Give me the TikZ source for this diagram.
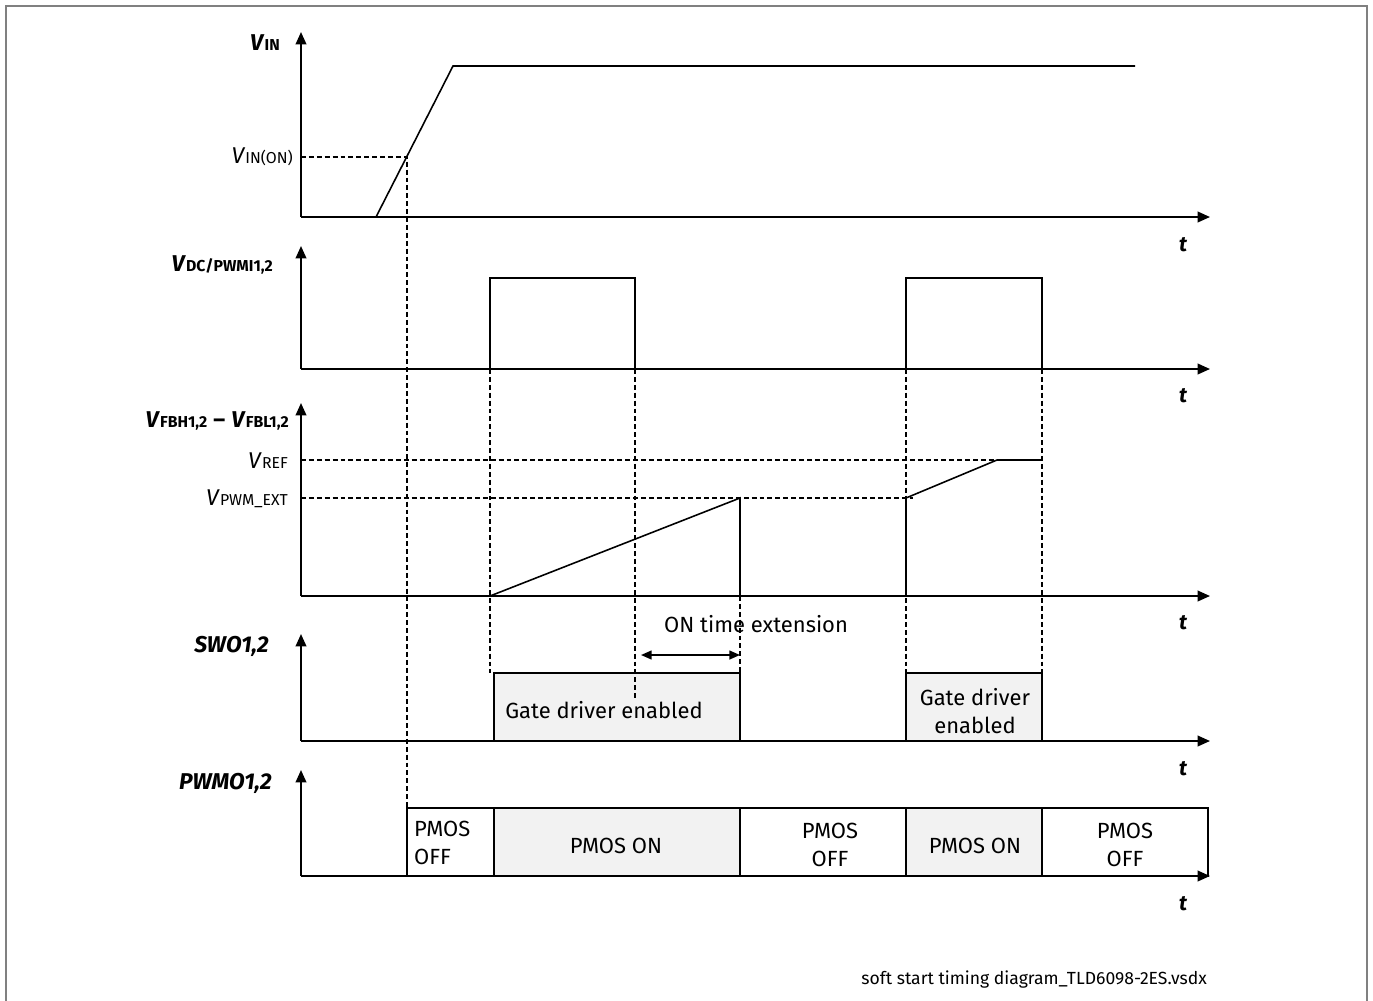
\documentclass[tikz,border=0pt]{standalone}
\usepackage{fontspec}
\setmainfont{Fira Sans}
\usetikzlibrary{arrows.meta,positioning}

\newcommand{\signame}[2]{\textbf{\textit{#1}}{\fontsize{9}{10}\selectfont\bfseries #2}}
\newcommand{\levname}[2]{\textit{#1}{\fontsize{9}{10}\selectfont #2}}

\begin{document}
\begin{tikzpicture}[
  x=0.02cm, y=-0.02cm,
  axis/.style={line width=1.1pt,-{Triangle[length=7pt,width=6pt]}},
  sig/.style={line width=0.9pt},
  guide/.style={line width=0.6pt,dash pattern=on 2.8pt off 1.7pt},
  onbox/.style={draw,line width=0.8pt,fill=black!5},
  offbox/.style={draw,line width=0.8pt,fill=white},
  lbl/.style={font=\fontsize{12.5}{15.5}\selectfont,align=center},
  axlbl/.style={font=\fontsize{13}{14}\selectfont,anchor=east},
  tlbl/.style={font=\fontsize{12}{13}\selectfont\bfseries\itshape}
]
\useasboundingbox (0,0) rectangle (1373,1001);
\draw[line width=1pt,black!50] (6,1001) -- (6,6) -- (1367,6) -- (1367,1001);

% axis origins
\coordinate (vin0) at (301,217);
\coordinate (pwmi0) at (301,369);
\coordinate (fb0) at (301,596);
\coordinate (swo0) at (301,741);
\coordinate (pwmo0) at (301,876);

% SWO and PWMO boxes
\draw[onbox] (494,673) rectangle (740,741);
\draw[onbox] (906,673) rectangle (1042,741);
\draw[offbox] (407,808) rectangle (494,876);
\draw[onbox] (494,808) rectangle (740,876);
\draw[offbox] (740,808) rectangle (906,876);
\draw[onbox] (906,808) rectangle (1042,876);
\draw[offbox] (1042,808) rectangle (1208,876);

% guides
\draw[guide] (vin0 |- 0,157) -- (407,157) -- (407,808);
\draw[guide] (490,369) -- (490,673);
\draw[guide] (635,369) -- (635,700);
\draw[guide] (740,596) -- (740,673);
\draw[guide] (906,369) -- (906,673);
\draw[guide] (1042,369) -- (1042,673);
\draw[guide] (fb0 |- 0,460) -- (997,460);
\draw[guide] (fb0 |- 0,498) -- (913,498);

% axes
\draw[axis] (vin0) -- (301,32);
\draw[axis] (vin0) -- (1210,217);
\draw[axis] (pwmi0) -- (301,246);
\draw[axis] (pwmi0) -- (1210,369);
\draw[axis] (fb0) -- (301,403);
\draw[axis] (fb0) -- (1210,596);
\draw[axis] (swo0) -- (301,634);
\draw[axis] (swo0) -- (1210,741);
\draw[axis] (pwmo0) -- (301,770);
\draw[axis] (pwmo0) -- (1210,876);

% signals
\draw[sig] (376,217) -- (453,66) -- (1135,66);
\draw[sig] (490,369) |- (635,278) -- (635,369);
\draw[sig] (906,369) |- (1042,278) -- (1042,369);
\draw[sig] (490,596) -- (740,498) -- (740,596);
\draw[sig] (906,596) -- (906,498) -- (997,460) -- (1042,460);

% ON time extension
\coordinate (ext1) at (641,655);
\coordinate (ext2) at (740,655);
\draw[line width=0.9pt,{Triangle[length=6pt,width=5pt]}-{Triangle[length=6pt,width=5pt]}] (ext1) -- (ext2);
\node[lbl] (ext) at (756,624) {ON time extension};

% axis labels
\node[axlbl] (vinlbl) at (286,43) {\signame{V}{IN}};
\node[axlbl] (vinon) at (299,157) {\levname{V}{IN(ON)}};
\node[axlbl] (pwmilbl) at (279,265) {\signame{V}{DC/PWMI1,2}};
\node[axlbl] (fblbl) at (295,421) {\signame{V}{FBH1,2} \textbf{--} \signame{V}{FBL1,2}};
\node[axlbl] (vref) at (294,461) {\levname{V}{REF}};
\node[axlbl] (vpwm) at (294,499) {\levname{V}{PWM\_EXT}};
\node[axlbl] (swolbl) at (275,646) {\textbf{\textit{SWO1,2}}};
\node[axlbl] (pwmolbl) at (278,783) {\textbf{\textit{PWMO1,2}}};

% time labels
\node[tlbl] (t1) at (1183,245) {t};
\node[tlbl] (t2) at (1183,396) {t};
\node[tlbl] (t3) at (1183,623) {t};
\node[tlbl] (t4) at (1183,769) {t};
\node[tlbl] (t5) at (1183,904) {t};

% box texts
\node[lbl] (gd1) at (604,710) {Gate driver enabled};
\node[lbl] (gd2) at (975,711) {Gate driver\\enabled};
\node[lbl,align=left,anchor=west] (off1) at (408,843) {PMOS\\OFF};
\node[lbl] (on1) at (616,846) {PMOS ON};
\node[lbl] (off2) at (830,845) {PMOS\\OFF};
\node[lbl] (on2) at (975,846) {PMOS ON};
\node[lbl] (off3) at (1125,845) {PMOS\\OFF};

\node[font=\fontsize{10}{11}\selectfont,anchor=east] (file) at (1213,980) {soft start timing diagram\_TLD6098-2ES.vsdx};
\end{tikzpicture}
\end{document}
